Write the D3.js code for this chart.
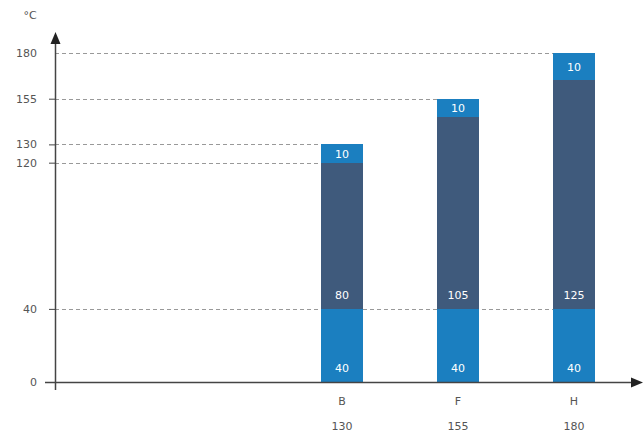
<!DOCTYPE html>
<html>
<head>
<meta charset="utf-8">
<script src="https://cdn.jsdelivr.net/npm/d3@7"></script>
<style>
  body { margin: 0; background: #fff; }
  svg { display: block; font-family: "DejaVu Sans", sans-serif; }
</style>
</head>
<body>
<svg width="643" height="434"></svg>
<script>
// data
var categories = ["B", "F", "H"];
var totals = [130, 155, 180];
var baseValues = [40, 40, 40];
var midValues = [80, 105, 125];
var topValues = [10, 10, 10];
var yTicks = [0, 40, 120, 130, 155, 180];

var svg = d3.select("svg");

var x0 = 55, y0 = 382;

var y = d3.scaleLinear().domain([0, 180]).range([y0, 53]);
var x = d3.scalePoint().domain(categories).range([284, 632]).padding(0.5);
var barW = 42;

var light = "#1b7fc0", dark = "#3f5a7c", axisCol = "#444", textCol = "#555";

// stacked segments
var rows = categories.map(function (c, i) {
  return { cat: c, base: baseValues[i], mid: midValues[i], top: topValues[i], total: totals[i] };
});
var stack = d3.stack().keys(["base", "mid", "top"])(rows);
// the top segment in the picture runs up to the stated total
stack[2].forEach(function (s) { s[1] = Math.max(s[1], s.data.total); });
var fills = { base: light, mid: dark, top: light };

// dashed guide lines (drawn to the first bar that reaches them)
var guides = svg.append("g");
yTicks.filter(function (t) { return t > 0; }).forEach(function (t) {
  var hit = rows.find(function (r) { return r.total >= t; });
  var xe = t === 40 ? x(categories[categories.length - 1]) - barW / 2 : x(hit.cat) - barW / 2;
  guides.append("line")
    .attr("x1", x0).attr("x2", xe)
    .attr("y1", Math.round(y(t)) + 0.5).attr("y2", Math.round(y(t)) + 0.5)
    .attr("stroke", "#999").attr("stroke-width", 1)
    .attr("stroke-dasharray", "4,3");
});

var layers = svg.append("g").selectAll("g")
  .data(stack)
  .enter().append("g")
  .attr("fill", function (d) { return fills[d.key]; });

layers.selectAll("rect")
  .data(function (d) { return d; })
  .enter().append("rect")
  .attr("shape-rendering", "crispEdges")
  .attr("x", function (d) { return Math.round(x(d.data.cat) - barW / 2); })
  .attr("width", barW)
  .attr("y", function (d) { return Math.round(y(d[1])); })
  .attr("height", function (d) { return Math.round(y(d[0])) - Math.round(y(d[1])); });

// segment labels
layers.selectAll("text")
  .data(function (d) { return d.map(function (s) { s.key = d.key; return s; }); })
  .enter().append("text")
  .attr("x", function (d) { return x(d.data.cat); })
  .attr("y", function (d) {
    var h = y(d[0]) - y(d[1]);
    return y(d[0]) - Math.min(14, h / 2) + 4;
  })
  .attr("text-anchor", "middle")
  .attr("fill", "#fff")
  .attr("font-size", 11)
  .text(function (d) { return d.data[d.key]; });

// y axis
var yAxis = d3.axisLeft(y).tickValues(yTicks).tickSize(6).tickPadding(12);
var ya = svg.append("g").attr("transform", "translate(" + x0 + ",0)").call(yAxis);
ya.select(".domain").remove();
ya.selectAll(".tick line").attr("stroke", axisCol);
ya.selectAll(".tick text").attr("fill", textCol).attr("font-size", 11).attr("font-family", "DejaVu Sans");
ya.selectAll(".tick").filter(function (d) { return d === 180; }).select("line").remove();

svg.append("line")
  .attr("x1", x0 + 0.5).attr("x2", x0 + 0.5)
  .attr("y1", y0 + 8).attr("y2", 42)
  .attr("stroke", axisCol).attr("stroke-width", 1.5);
svg.append("path")
  .attr("d", "M" + (x0 + 0.5) + ",32 L" + (x0 - 4.5) + ",44 L" + (x0 + 5.5) + ",44 Z")
  .attr("fill", "#222");

// x axis
svg.append("line")
  .attr("x1", x0 - 10).attr("x2", 634)
  .attr("y1", y0 + 0.5).attr("y2", y0 + 0.5)
  .attr("stroke", axisCol).attr("stroke-width", 1.5);
svg.append("path")
  .attr("d", "M643," + (y0 + 0.5) + " L631," + (y0 - 4.5) + " L631," + (y0 + 5.5) + " Z")
  .attr("fill", "#222");

var xa = svg.append("g");
xa.selectAll("text.cat")
  .data(rows).enter().append("text")
  .attr("class", "cat")
  .attr("x", function (d) { return x(d.cat); })
  .attr("y", 405)
  .attr("text-anchor", "middle")
  .attr("fill", textCol).attr("font-size", 11)
  .text(function (d) { return d.cat; });
xa.selectAll("text.tot")
  .data(rows).enter().append("text")
  .attr("class", "tot")
  .attr("x", function (d) { return x(d.cat); })
  .attr("y", 430)
  .attr("text-anchor", "middle")
  .attr("fill", textCol).attr("font-size", 11)
  .text(function (d) { return d.total; });

// unit label
svg.append("text")
  .attr("x", 30).attr("y", 19)
  .attr("text-anchor", "middle")
  .attr("fill", textCol).attr("font-size", 11)
  .text("°C");
</script>
</body>
</html>
